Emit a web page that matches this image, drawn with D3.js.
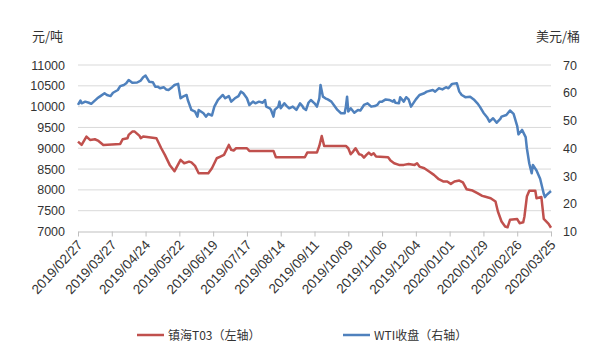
<!DOCTYPE html>
<html><head><meta charset="utf-8">
<script src="https://cdn.jsdelivr.net/npm/d3@7"></script>
<style>
html,body{margin:0;padding:0;background:#fff;}
svg{display:block;font-family:"Noto Sans CJK SC","Noto Sans",sans-serif;}
</style></head>
<body><svg id="c" width="608" height="357"></svg>
<script>
const xTickLabels = ["2019/02/27","2019/03/27","2019/04/24","2019/05/22","2019/06/19","2019/07/17","2019/08/14","2019/09/11","2019/10/09","2019/11/06","2019/12/04","2020/01/01","2020/01/29","2020/02/26","2020/03/25"];
const leftTicks = [7000,7500,8000,8500,9000,9500,10000,10500,11000];
const rightTicks = [10,20,30,40,50,60,70];

const redDates = ["2019-02-27","2019-03-02","2019-03-06","2019-03-09","2019-03-13","2019-03-16","2019-03-20","2019-04-03","2019-04-05","2019-04-09","2019-04-10","2019-04-13","2019-04-15","2019-04-19","2019-04-20","2019-04-22","2019-05-03","2019-05-05","2019-05-07","2019-05-10","2019-05-14","2019-05-18","2019-05-20","2019-05-23","2019-05-26","2019-05-30","2019-06-01","2019-06-04","2019-06-07","2019-06-15","2019-06-18","2019-06-22","2019-06-25","2019-06-28","2019-07-02","2019-07-04","2019-07-06","2019-07-08","2019-07-17","2019-07-19","2019-08-08","2019-08-10","2019-09-03","2019-09-05","2019-09-13","2019-09-15","2019-09-17","2019-09-19","2019-10-07","2019-10-09","2019-10-11","2019-10-13","2019-10-15","2019-10-18","2019-10-20","2019-10-22","2019-10-24","2019-10-26","2019-10-28","2019-10-30","2019-11-01","2019-11-11","2019-11-13","2019-11-16","2019-11-20","2019-11-24","2019-11-28","2019-12-03","2019-12-05","2019-12-07","2019-12-11","2019-12-15","2019-12-19","2019-12-23","2019-12-27","2019-12-30","2020-01-02","2020-01-05","2020-01-09","2020-01-12","2020-01-15","2020-01-20","2020-01-24","2020-01-28","2020-01-30","2020-02-04","2020-02-08","2020-02-10","2020-02-13","2020-02-16","2020-02-18","2020-02-20","2020-02-26","2020-02-28","2020-03-02","2020-03-03","2020-03-05","2020-03-07","2020-03-12","2020-03-13","2020-03-17","2020-03-19","2020-03-23","2020-03-25"];
const redValues = [9160,9080,9280,9200,9216,9176,9080,9104,9216,9240,9320,9400,9400,9296,9240,9280,9240,9120,9000,8840,8600,8450,8560,8720,8640,8680,8660,8576,8400,8400,8520,8760,8800,8840,9080,8960,8944,9000,9000,8936,8936,8784,8784,8896,8896,9056,9296,9056,9056,9000,8856,8920,9000,8856,8840,8776,8840,8896,8840,8880,8800,8784,8704,8640,8600,8600,8624,8600,8640,8560,8520,8440,8360,8256,8200,8200,8144,8200,8224,8180,8016,7984,7920,7856,7840,7800,7720,7480,7240,7120,7100,7280,7300,7200,7220,7360,7840,7980,7980,7800,7830,7305,7185,7090];

const blueDates = ["2019-02-27","2019-03-01","2019-03-02","2019-03-05","2019-03-08","2019-03-10","2019-03-12","2019-03-15","2019-03-17","2019-03-21","2019-03-23","2019-03-26","2019-03-28","2019-04-01","2019-04-03","2019-04-06","2019-04-08","2019-04-10","2019-04-13","2019-04-17","2019-04-20","2019-04-22","2019-04-24","2019-04-27","2019-04-30","2019-05-02","2019-05-04","2019-05-06","2019-05-09","2019-05-11","2019-05-13","2019-05-16","2019-05-18","2019-05-21","2019-05-23","2019-05-25","2019-05-28","2019-05-29","2019-06-01","2019-06-04","2019-06-06","2019-06-07","2019-06-11","2019-06-13","2019-06-15","2019-06-18","2019-06-20","2019-06-23","2019-06-27","2019-06-29","2019-07-02","2019-07-04","2019-07-07","2019-07-10","2019-07-12","2019-07-14","2019-07-17","2019-07-19","2019-07-22","2019-07-24","2019-07-27","2019-07-30","2019-08-01","2019-08-02","2019-08-05","2019-08-06","2019-08-08","2019-08-09","2019-08-12","2019-08-13","2019-08-14","2019-08-17","2019-08-19","2019-08-21","2019-08-24","2019-08-27","2019-08-30","2019-09-01","2019-09-02","2019-09-04","2019-09-06","2019-09-08","2019-09-11","2019-09-13","2019-09-15","2019-09-16","2019-09-18","2019-09-20","2019-09-22","2019-09-25","2019-09-27","2019-09-30","2019-10-03","2019-10-06","2019-10-07","2019-10-08","2019-10-09","2019-10-11","2019-10-14","2019-10-17","2019-10-19","2019-10-22","2019-10-25","2019-10-28","2019-10-31","2019-11-02","2019-11-04","2019-11-06","2019-11-09","2019-11-12","2019-11-15","2019-11-16","2019-11-17","2019-11-20","2019-11-21","2019-11-24","2019-11-26","2019-11-28","2019-11-30","2019-12-04","2019-12-07","2019-12-11","2019-12-13","2019-12-18","2019-12-20","2019-12-23","2019-12-26","2019-12-29","2019-12-31","2020-01-03","2020-01-07","2020-01-09","2020-01-11","2020-01-14","2020-01-18","2020-01-21","2020-01-24","2020-01-26","2020-01-29","2020-02-01","2020-02-03","2020-02-06","2020-02-09","2020-02-12","2020-02-13","2020-02-17","2020-02-20","2020-02-23","2020-02-26","2020-02-27","2020-03-01","2020-03-04","2020-03-05","2020-03-07","2020-03-09","2020-03-10","2020-03-13","2020-03-16","2020-03-19","2020-03-20","2020-03-21","2020-03-25"];
const blueValues = [55.6,57.2,56.2,56.8,56.4,56.0,56.8,58.0,58.6,59.8,59.2,58.8,60.0,61.0,62.4,62.8,63.4,64.6,63.6,63.7,64.4,65.6,66.2,64.0,63.8,62.2,62.2,61.6,62.0,61.2,61.0,62.0,62.8,63.2,58.0,58.6,59.2,57.4,53.8,53.2,51.4,53.8,52.6,51.4,52.4,51.8,55.0,57.4,59.2,58.0,58.8,56.8,58.0,58.8,60.4,59.8,58.0,55.6,56.8,56.2,56.8,56.4,57.4,55.0,54.4,53.8,51.4,53.8,55.0,56.8,54.4,56.2,55.2,54.4,55.0,53.8,56.2,55.2,54.4,53.8,56.4,57.4,56.2,55.0,58.0,62.8,58.6,58.0,57.6,56.8,55.6,53.8,52.6,52.6,55.0,58.6,53.2,54.4,52.8,53.8,53.6,55.6,56.2,55.0,55.2,55.6,56.8,56.8,57.6,57.4,56.8,57.4,56.4,56.2,58.4,56.8,58.4,57.6,55.0,57.6,59.2,59.8,60.4,61.0,60.4,61.6,61.2,62.0,61.6,63.2,63.4,60.4,59.2,58.4,58.6,57.6,56.2,55.0,52.8,51.2,49.6,50.8,49.2,50.6,51.4,52.0,53.6,52.4,48.0,45.0,46.6,44.0,40.0,34.5,31.0,34.0,32.0,29.0,23.6,22.4,23.0,24.6];

const seriesNames = ["镇海T03（左轴）","WTI收盘（右轴）"];
const colors = ["#c0504d","#4f81bd"];

const parse = d3.utcParse("%Y-%m-%d");
const parseTick = d3.utcParse("%Y/%m/%d");
const fmtTick = d3.utcFormat("%Y/%m/%d");

const svg = d3.select("#c");
const L = 78, R = 551, T = 65, B = 231.5;

const x = d3.scaleUtc().domain([parseTick(xTickLabels[0]), parseTick(xTickLabels[xTickLabels.length-1])]).range([L, R]);
const yL = d3.scaleLinear().domain([7000, 11000]).range([B, T]);
const yR = d3.scaleLinear().domain([10, 70]).range([B, T]);

// gridlines
svg.append("g").selectAll("line").data(leftTicks.slice(1)).join("line")
  .attr("x1", L).attr("x2", R)
  .attr("y1", d => yL(d)).attr("y2", d => yL(d))
  .attr("stroke", "#d9d9d9").attr("stroke-width", 1);

// left axis
const gl = svg.append("g").attr("transform", `translate(${L},0)`)
  .call(d3.axisLeft(yL).tickValues(leftTicks).tickFormat(d3.format("d")).tickSize(0).tickPadding(13));
gl.select(".domain").remove();
gl.selectAll("text").attr("font-size", 12.5).attr("fill", "#333");

// right axis
const gr = svg.append("g").attr("transform", `translate(${R},0)`)
  .call(d3.axisRight(yR).tickValues(rightTicks).tickSize(0).tickPadding(12));
gr.select(".domain").remove();
gr.selectAll("text").attr("font-size", 12.5).attr("fill", "#333");

// bottom axis
const gx = svg.append("g").attr("transform", `translate(0,${B})`)
  .call(d3.axisBottom(x).tickValues(xTickLabels.map(parseTick)).tickFormat(fmtTick).tickSize(5).tickSizeOuter(0));
gx.select(".domain").attr("stroke", "#bfbfbf");
gx.selectAll(".tick line").attr("stroke", "#bfbfbf");
gx.selectAll("text")
  .attr("font-size", 13.5).attr("fill", "#333")
  .attr("text-anchor", "end")
  .attr("x", 0).attr("y", 0).attr("dy", 0)
  .attr("transform", "translate(5,14) rotate(-47)");

// unit labels
svg.append("text").attr("x", 32).attr("y", 41).attr("font-size", 13).attr("fill", "#333").text("元/吨");
svg.append("text").attr("x", 580).attr("y", 41).attr("text-anchor", "end").attr("font-size", 13).attr("fill", "#333").text("美元/桶");

// lines
const redData = redDates.map((d, i) => ({ date: parse(d), v: redValues[i] }));
const blueData = blueDates.map((d, i) => ({ date: parse(d), v: blueValues[i] }));

svg.append("path").datum(redData)
  .attr("fill", "none").attr("stroke", colors[0]).attr("stroke-width", 2.5).attr("stroke-linejoin", "round")
  .attr("d", d3.line().x(d => x(d.date)).y(d => yL(d.v)));
svg.append("path").datum(blueData)
  .attr("fill", "none").attr("stroke", colors[1]).attr("stroke-width", 2.5).attr("stroke-linejoin", "round")
  .attr("d", d3.line().x(d => x(d.date)).y(d => yR(d.v)));

// legend
const legendX = [137, 343];
const lg = svg.append("g");
seriesNames.forEach((n, i) => {
  lg.append("line").attr("x1", legendX[i]).attr("x2", legendX[i] + 27)
    .attr("y1", 335).attr("y2", 335).attr("stroke", colors[i]).attr("stroke-width", 2.5);
  lg.append("text").attr("x", legendX[i] + 31).attr("y", 339.5)
    .attr("font-size", 12).attr("fill", "#333").text(n);
});
</script></body></html>
